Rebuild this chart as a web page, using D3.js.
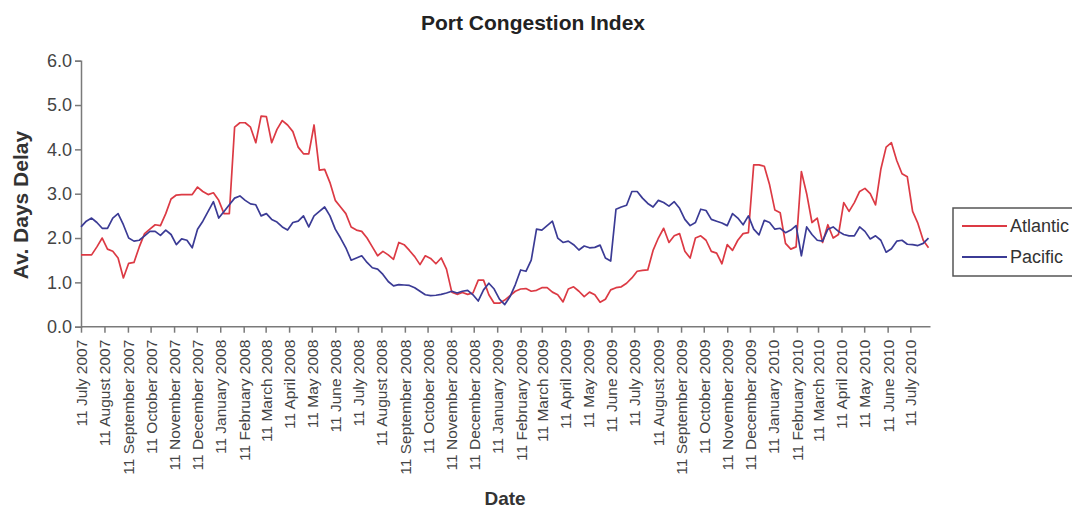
<!doctype html>
<html lang="en">
<head>
<meta charset="utf-8">
<title>Port Congestion Index</title>
<style>
  body { margin: 0; background: #fff; }
  text { font-family: "Liberation Sans", Arial, sans-serif; }
</style>
</head>
<body>
<script src="https://d3js.org/d3.v7.min.js"></script>
<script>
// weekly readings, first week = 11 July 2007
var firstWeek = "11 July 2007";

var atlantic = [
  1.62, 1.62, 1.62, 1.80, 2.00, 1.75, 1.70, 1.55, 1.10, 1.43,
  1.45, 1.80, 2.10, 2.20, 2.30, 2.28, 2.55, 2.88, 2.97, 2.98,
  2.98, 2.98, 3.15, 3.05, 2.98, 3.02, 2.85, 2.55, 2.55, 4.50,
  4.60, 4.60, 4.50, 4.15, 4.75, 4.74, 4.15, 4.45, 4.65, 4.55,
  4.40, 4.05, 3.90, 3.90, 4.55, 3.53, 3.55, 3.25, 2.85, 2.70,
  2.55, 2.25, 2.18, 2.15, 2.00, 1.80, 1.60, 1.70, 1.62, 1.52,
  1.90, 1.85, 1.72, 1.58, 1.40, 1.60, 1.54, 1.42, 1.55, 1.30,
  0.78, 0.73, 0.77, 0.73, 0.76, 1.05, 1.05, 0.72, 0.53, 0.53,
  0.60, 0.70, 0.80, 0.85, 0.86, 0.80, 0.82, 0.88, 0.88, 0.78,
  0.72, 0.56, 0.85, 0.90, 0.80, 0.68, 0.78, 0.72, 0.55, 0.62,
  0.83, 0.88, 0.90, 0.98, 1.10, 1.25, 1.27, 1.28, 1.72, 2.00,
  2.22, 1.90, 2.05, 2.10, 1.70, 1.55, 2.00, 2.05, 1.95, 1.70,
  1.66, 1.42, 1.85, 1.72, 1.95, 2.10, 2.12, 3.65, 3.65, 3.62,
  3.20, 2.63, 2.57, 1.88, 1.75, 1.80, 3.50, 3.00, 2.35, 2.45,
  1.90, 2.30, 2.00, 2.08, 2.80, 2.60, 2.80, 3.05, 3.12, 3.00,
  2.75, 3.55, 4.05, 4.15, 3.75, 3.45, 3.38, 2.60, 2.33, 1.95,
  1.78
];

var pacific = [
  2.25, 2.38, 2.45, 2.35, 2.22, 2.22, 2.45, 2.55, 2.30, 2.00,
  1.93, 1.95, 2.05, 2.15, 2.15, 2.06, 2.18, 2.08, 1.85, 1.98,
  1.95, 1.78, 2.20, 2.38, 2.60, 2.82, 2.45, 2.60, 2.75, 2.90,
  2.95, 2.85, 2.77, 2.75, 2.50, 2.55, 2.42, 2.36, 2.25, 2.18,
  2.35, 2.38, 2.50, 2.25, 2.50, 2.60, 2.70, 2.50, 2.20, 2.00,
  1.78, 1.50, 1.55, 1.60, 1.45, 1.33, 1.30, 1.18, 1.02, 0.92,
  0.95, 0.94, 0.93, 0.88, 0.80, 0.72, 0.70, 0.71, 0.73, 0.76,
  0.80, 0.76, 0.80, 0.82, 0.72, 0.58, 0.83, 0.98, 0.85, 0.62,
  0.50, 0.68, 0.95, 1.28, 1.25, 1.50, 2.20, 2.18, 2.28, 2.38,
  2.00, 1.90, 1.93, 1.85, 1.73, 1.82, 1.78, 1.79, 1.84, 1.55,
  1.48, 2.65, 2.70, 2.74, 3.05, 3.05, 2.90, 2.78, 2.70, 2.85,
  2.80, 2.72, 2.82, 2.67, 2.42, 2.28, 2.35, 2.65, 2.62, 2.42,
  2.38, 2.34, 2.28, 2.55, 2.45, 2.30, 2.50, 2.20, 2.07, 2.40,
  2.35, 2.20, 2.22, 2.12, 2.18, 2.28, 1.60, 2.25, 2.08, 1.95,
  1.93, 2.20, 2.25, 2.15, 2.08, 2.05, 2.05, 2.25, 2.15, 1.98,
  2.05, 1.95, 1.68, 1.76, 1.93, 1.95, 1.86, 1.85, 1.83, 1.88,
  2.00
];

var tickLabels = [
  "11 July 2007", "11 August 2007", "11 September 2007", "11 October 2007",
  "11 November 2007", "11 December 2007", "11 January 2008", "11 February 2008",
  "11 March 2008", "11 April 2008", "11 May 2008", "11 June 2008",
  "11 July 2008", "11 August 2008", "11 September 2008", "11 October 2008",
  "11 November 2008", "11 December 2008", "11 January 2009", "11 February 2009",
  "11 March 2009", "11 April 2009", "11 May 2009", "11 June 2009",
  "11 July 2009", "11 August 2009", "11 September 2009", "11 October 2009",
  "11 November 2009", "11 December 2009", "11 January 2010", "11 February 2010",
  "11 March 2010", "11 April 2010", "11 May 2010", "11 June 2010",
  "11 July 2010"
];

var yTicks = [0, 1, 2, 3, 4, 5, 6];

var seriesNames = ["Atlantic", "Pacific"];
var colors = { Atlantic: "#dc3a44", Pacific: "#3b3b95" };

var width = 1072, height = 508;
var plotLeft = 81, plotRight = 928.5, plotTop = 60.7, plotBottom = 326.7;

var parse = d3.timeParse("%d %B %Y");
var start = parse(firstWeek);
var weekDate = function(i) { return d3.timeDay.offset(start, i * 7); };

var series = {
  Atlantic: atlantic.map(function(v, i) { return { date: weekDate(i), value: v }; }),
  Pacific: pacific.map(function(v, i) { return { date: weekDate(i), value: v }; })
};

var x = d3.scaleTime()
    .domain([start, weekDate(atlantic.length - 1)])
    .range([plotLeft, plotRight]);
var y = d3.scaleLinear().domain([0, 6]).range([plotBottom, plotTop]);

var svg = d3.select("body").append("svg")
    .attr("width", width)
    .attr("height", height);

// title
svg.append("text")
    .attr("x", 533).attr("y", 30)
    .attr("text-anchor", "middle")
    .style("font-size", "21px").style("font-weight", "bold")
    .attr("fill", "#222")
    .text("Port Congestion Index");

// y axis
var yAxis = svg.append("g")
    .attr("transform", "translate(" + plotLeft + ",0)")
    .call(d3.axisLeft(y).tickValues(yTicks).tickFormat(d3.format(".1f")).tickSizeOuter(0).tickSize(6).tickPadding(3));

// x axis
var xAxis = svg.append("g")
    .attr("transform", "translate(0," + plotBottom + ")")
    .call(d3.axisBottom(x)
      .tickValues(tickLabels.map(parse))
      .tickFormat(function(d, i) { return tickLabels[i]; })
      .tickSizeOuter(0).tickSize(6));

xAxis.select(".domain").attr("d", "M" + plotLeft + ",0H" + (plotRight + 2));

xAxis.selectAll(".tick text")
    .attr("transform", "rotate(-90)")
    .attr("text-anchor", "end")
    .attr("x", -13).attr("y", 0).attr("dy", "0.35em")
    .style("font-size", "15.5px");

yAxis.selectAll(".tick text").style("font-size", "18px");

svg.selectAll(".domain, .tick line").attr("stroke", "#7a7a7a").attr("stroke-width", 1.5);
svg.selectAll(".tick text").attr("fill", "#444");

// axis titles
svg.append("text")
    .attr("transform", "translate(28,205) rotate(-90)")
    .attr("text-anchor", "middle")
    .style("font-size", "21px").style("font-weight", "bold")
    .attr("fill", "#333")
    .text("Av. Days Delay");

svg.append("text")
    .attr("x", 505).attr("y", 505)
    .attr("text-anchor", "middle")
    .style("font-size", "19px").style("font-weight", "bold")
    .attr("fill", "#333")
    .text("Date");

// lines
var line = d3.line()
    .x(function(d) { return x(d.date); })
    .y(function(d) { return y(d.value); });

seriesNames.forEach(function(name) {
  svg.append("path")
      .datum(series[name])
      .attr("fill", "none")
      .attr("stroke", colors[name])
      .attr("stroke-width", 1.7)
      .attr("stroke-linejoin", "round")
      .attr("d", line);
});

// legend
var legend = svg.append("g").attr("transform", "translate(953,208)");
legend.append("rect")
    .attr("width", 130).attr("height", 68)
    .attr("fill", "#fff").attr("stroke", "#555").attr("stroke-width", 1.5);

seriesNames.forEach(function(name, i) {
  var g = legend.append("g").attr("transform", "translate(0," + (18 + i * 31) + ")");
  g.append("line")
      .attr("x1", 9).attr("x2", 54)
      .attr("stroke", colors[name]).attr("stroke-width", 1.8);
  g.append("text")
      .attr("x", 57).attr("dy", "0.35em")
      .style("font-size", "18px")
      .attr("fill", "#333")
      .text(name);
});
</script>
</body>
</html>
